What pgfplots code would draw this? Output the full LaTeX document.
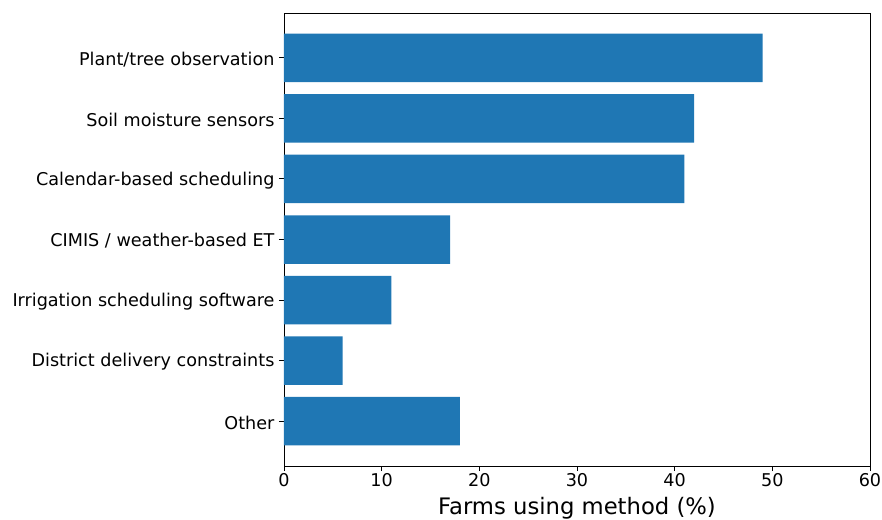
\documentclass[border=0pt]{standalone}
\usepackage{pgfplots}
\pgfplotsset{compat=1.18}
\usepackage{fontspec}
\setmainfont{DejaVu Sans}
\definecolor{tabblue}{HTML}{1F77B4}
\begin{document}
\begin{tikzpicture}
\begin{axis}[
    scale only axis,
    width=586pt, height=453pt,
    xmin=0, xmax=60,
    ymin=-0.74, ymax=6.74,
    y dir=reverse,
    xtick={0,10,20,30,40,50,60},
    ytick={0,1,2,3,4,5,6},
    yticklabels={Plant/tree observation,Soil moisture sensors,Calendar-based scheduling,CIMIS / weather-based ET,Irrigation scheduling software,District delivery constraints,Other},
    tick align=outside,
    tick pos=left,
    major tick length=5pt,
    axis line style={line width=0.9pt},
    every tick/.style={black, line width=0.9pt},
    tick label style={font=\fontsize{17.6}{20}\selectfont},
    xticklabel style={yshift=1pt},
    yticklabel style={xshift=-1pt, yshift=-1.5pt},
    /pgf/number format/assume math mode=true,
    xlabel={Farms using method (\%)},
    xlabel style={font=\fontsize{22.7}{25}\selectfont, at={(axis description cs:0.5,0)}, anchor=north, yshift=-28pt},
    xbar, bar width=48.5pt,
    bar shift=0pt,
]
\addplot[fill=tabblue, draw=none] coordinates {
    (49,0) (42,1) (41,2) (17,3) (11,4) (6,5) (18,6)
};
\end{axis}
\pgfresetboundingbox
\path[use as bounding box] (-284pt,-53pt) rectangle (598pt,466pt);
\end{tikzpicture}
\end{document}
